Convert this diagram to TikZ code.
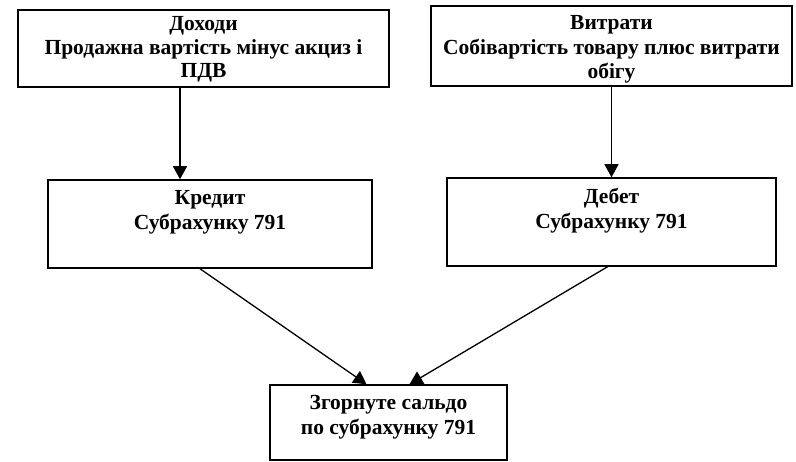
\documentclass[tikz,border=0pt]{standalone}
\usepackage{fontspec}
\setmainfont{Liberation Serif}
\usetikzlibrary{arrows.meta}
\tikzset{
	box/.style={draw,line width=1.5pt,rectangle,inner sep=0pt},
	txt/.style={align=center,inner sep=0pt,font=\bfseries\fontsize{21.5}{24.5}\selectfont},
	arr/.style={line width=1.3pt,-{Triangle[length=13pt,width=14pt]}}
}
\begin{document}
\begin{tikzpicture}[x=1pt,y=-1pt]
	\useasboundingbox (0,0) rectangle (796,462);
	\node[box,minimum width=371pt,minimum height=77pt] (dohody) at (203.5,48.5) {};
	\node[box,minimum width=361pt,minimum height=80pt] (vytraty) at (611.5,46) {};
	\node[box,minimum width=324pt,minimum height=88pt] (kredyt) at (210,224) {};
	\node[box,minimum width=329pt,minimum height=88pt] (debet) at (611.5,222) {};
	\node[box,minimum width=237pt,minimum height=75pt] (saldo) at (388.5,422.5) {};
	\node[txt,font=\bfseries\fontsize{21.5}{23.5}\selectfont,anchor=north] (dohodytxt) at ([yshift=-7pt]dohody.north) {Доходи\\Продажна вартість мінус акциз і\\ПДВ};
	\node[txt,anchor=north] (vytratytxt) at ([yshift=-10pt]vytraty.north) {Витрати\\Собівартість товару плюс витрати\\обігу};
	\node[txt,anchor=north] (kredyttxt) at ([yshift=-11pt]kredyt.north) {Кредит\\Субрахунку 791};
	\node[txt,anchor=north] (debettxt) at ([yshift=-11pt]debet.north) {Дебет\\Субрахунку 791};
	\node[txt,anchor=north] (saldotxt) at ([yshift=-11pt]saldo.north) {Згорнуте сальдо\\по субрахунку 791};
	\draw[arr] ([xshift=-23.5pt]dohody.south) -- ([xshift=-30pt]kredyt.north);
	\draw[arr] (vytraty.south) -- (debet.north);
	\draw[arr] ([xshift=-10pt]kredyt.south) -- ([xshift=-22pt]saldo.north);
	\draw[arr] ([xshift=-4pt]debet.south) -- ([xshift=21pt]saldo.north);
\end{tikzpicture}
\end{document}
